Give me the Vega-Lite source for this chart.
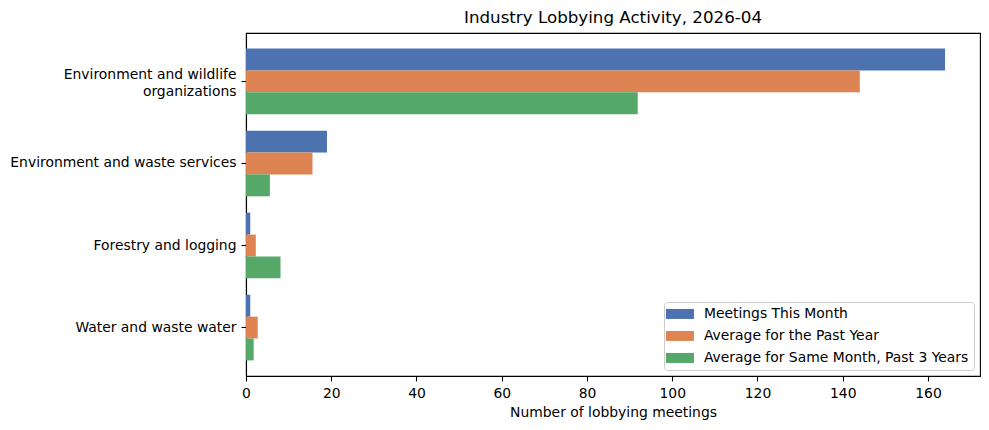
{
  "$schema": "https://vega.github.io/schema/vega-lite/v6.json",
  "width": 734,
  "height": 343,
  "autosize": {"type": "none"},
  "padding": {"left": 246, "top": 33, "right": 9, "bottom": 54},
  "background": "white",
  "title": {
    "text": "Industry Lobbying Activity, 2026-04",
    "font": "DejaVu Sans",
    "fontSize": 16.7,
    "fontWeight": "normal",
    "color": "black",
    "anchor": "middle",
    "offset": 6
  },
  "config": {
    "font": "DejaVu Sans",
    "view": {"stroke": "black", "strokeWidth": 1.1},
    "axis": {
      "grid": false,
      "domainColor": "black",
      "domainWidth": 1.1,
      "tickColor": "black",
      "tickWidth": 1.1,
      "tickSize": 5,
      "labelPadding": 5,
      "labelFont": "DejaVu Sans",
      "labelFontSize": 13.9,
      "labelColor": "black",
      "titleFont": "DejaVu Sans",
      "titleFontSize": 13.9,
      "titleFontWeight": "normal",
      "titleColor": "black"
    }
  },
  "data": {
    "values": [
      {"industry": "Environment and wildlife organizations", "series": "Meetings This Month", "meetings": 164},
      {"industry": "Environment and wildlife organizations", "series": "Average for the Past Year", "meetings": 144},
      {"industry": "Environment and wildlife organizations", "series": "Average for Same Month, Past 3 Years", "meetings": 91.9},
      {"industry": "Environment and waste services", "series": "Meetings This Month", "meetings": 19},
      {"industry": "Environment and waste services", "series": "Average for the Past Year", "meetings": 15.6},
      {"industry": "Environment and waste services", "series": "Average for Same Month, Past 3 Years", "meetings": 5.6},
      {"industry": "Forestry and logging", "series": "Meetings This Month", "meetings": 1},
      {"industry": "Forestry and logging", "series": "Average for the Past Year", "meetings": 2.3},
      {"industry": "Forestry and logging", "series": "Average for Same Month, Past 3 Years", "meetings": 8.1},
      {"industry": "Water and waste water", "series": "Meetings This Month", "meetings": 1},
      {"industry": "Water and waste water", "series": "Average for the Past Year", "meetings": 2.75},
      {"industry": "Water and waste water", "series": "Average for Same Month, Past 3 Years", "meetings": 1.8}
    ]
  },
  "mark": {"type": "bar"},
  "encoding": {
    "y": {
      "field": "industry",
      "type": "nominal",
      "sort": ["Environment and wildlife organizations", "Environment and waste services", "Forestry and logging", "Water and waste water"],
      "scale": {"paddingInner": 0.2, "paddingOuter": 0.19},
      "axis": {
        "title": null,
        "labelLimit": 400,
        "labelLineHeight": 17.5,
        "labelOffset": {"condition": {"test": "datum.value == 'Environment and wildlife organizations'", "value": -6.5}, "value": 0},
        "labelExpr": "datum.value == 'Environment and wildlife organizations' ? ['Environment and wildlife', 'organizations'] : datum.label"
      }
    },
    "yOffset": {
      "field": "series",
      "sort": ["Meetings This Month", "Average for the Past Year", "Average for Same Month, Past 3 Years"],
      "scale": {"paddingInner": 0, "paddingOuter": 0}
    },
    "x": {
      "field": "meetings",
      "type": "quantitative",
      "scale": {"domain": [0, 172.2], "nice": false, "zero": true},
      "axis": {
        "title": "Number of lobbying meetings",
        "values": [0, 20, 40, 60, 80, 100, 120, 140, 160],
        "labelFlush": false,
        "titlePadding": 6
      }
    },
    "color": {
      "field": "series",
      "type": "nominal",
      "scale": {
        "domain": ["Meetings This Month", "Average for the Past Year", "Average for Same Month, Past 3 Years"],
        "range": ["#4c72b0", "#dd8452", "#55a868"]
      },
      "legend": {
        "title": null,
        "orient": "bottom-right",
        "offset": 6,
        "fillColor": "white",
        "strokeColor": "#cccccc",
        "cornerRadius": 3,
        "padding": 5,
        "symbolType": "M-2.8,-1H2.8V1H-2.8Z",
        "symbolSize": 100,
        "symbolStrokeWidth": 0,
        "symbolOpacity": 1,
        "symbolOffset": 4,
        "labelOffset": 17,
        "labelLimit": 400,
        "labelFont": "DejaVu Sans",
        "labelFontSize": 13.9,
        "labelColor": "black",
        "rowPadding": 7
      }
    }
  }
}
